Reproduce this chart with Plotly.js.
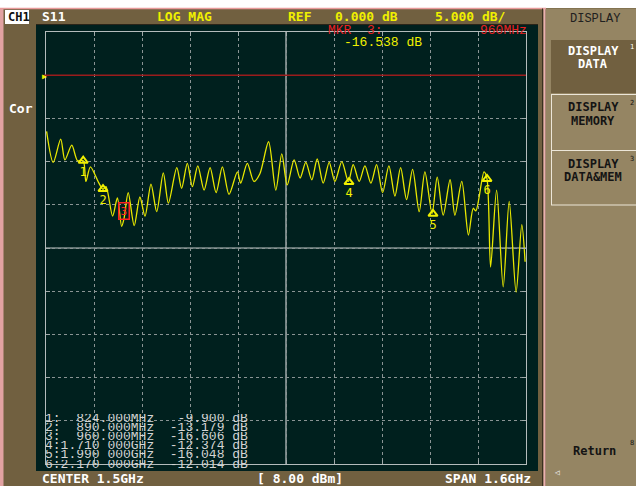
<!DOCTYPE html>
<html><head><meta charset="utf-8">
<script src="https://cdn.plot.ly/plotly-3.0.1.min.js"></script>
<style>html,body{margin:0;padding:0;background:#fff;}#c{width:636px;height:486px;}</style>
</head><body><div id="c"></div>
<script>
// ---- data ----
const traceGHz = [0.702,0.724,0.749,0.763,0.786,0.805,0.824,0.833,0.848,0.875,0.890,0.900,0.922,0.938,0.952,0.960,0.974,0.994,1.013,1.030,1.050,1.069,1.091,1.108,1.136,1.152,1.171,1.188,1.206,1.227,1.247,1.267,1.288,1.310,1.338,1.349,1.371,1.393,1.413,1.442,1.466,1.486,1.504,1.527,1.547,1.566,1.586,1.604,1.624,1.644,1.663,1.686,1.708,1.724,1.744,1.763,1.783,1.802,1.822,1.843,1.863,1.882,1.902,1.922,1.944,1.963,1.987,2.004,2.024,2.047,2.063,2.086,2.108,2.124,2.133,2.160,2.170,2.182,2.202,2.224,2.244,2.267,2.286,2.297];
const traceDB  = [-6.5,-10.1,-7.4,-9.8,-8.1,-9.9,-9.9,-12.3,-10.6,-12.4,-13.2,-12.9,-16.3,-14.2,-17.5,-16.6,-13.6,-17.4,-14.1,-16.3,-12.6,-15.8,-11.3,-14.8,-10.7,-13.1,-10.2,-12.9,-10.5,-13.3,-10.7,-13.6,-10.6,-13.8,-11.2,-12.5,-10.2,-12.3,-11.4,-7.7,-13.3,-9.1,-12.7,-9.8,-11.9,-10.1,-12.1,-9.7,-12.5,-10.1,-12.3,-10.0,-12.3,-10.35,-12.3,-10.5,-12.5,-10.35,-13.6,-10.5,-14.0,-10.7,-14.4,-10.9,-15.8,-11.2,-16.0,-11.8,-16.2,-12.1,-16.2,-12.3,-18.5,-15.4,-15.7,-11.2,-12.0,-22.2,-13.3,-24.5,-14.6,-25.1,-17.3,-21.6];
const mkId   = ['1','2','3','4','5','6'];
const mkFreq = [0.824,0.890,0.960,1.710,1.990,2.170];
const mkVal  = [-9.900,-13.179,-16.606,-12.374,-16.048,-12.014];
const xRange = [0.7, 2.3];
const yRange = [-45, 5];
const refDB = 0, limitDB = -20, centerGHz = 1.5;

// ---- geometry helpers (pixel -> paper) ----
const L=46,R=526,T=32,B=464;
const xp = p => (p-L)/(R-L);
const yp = p => (B-p)/(B-T);

const BROWN='#716040', PANEL='#958563', DARK='#00201e', YEL='#f0f000', TRC='#e8e800';
const mono='DejaVu Sans Mono', lmono='Liberation Mono';

const shapes = [
 {type:'rect',xref:'paper',yref:'paper',x0:xp(0),x1:xp(636),y0:yp(8),y1:yp(-2),fillcolor:'#ffffff',line:{width:0},layer:'below'},
 {type:'rect',xref:'paper',yref:'paper',x0:xp(-2),x1:xp(3.5),y0:yp(490),y1:yp(8),fillcolor:'#e2a2a2',line:{width:0},layer:'below'},
 {type:'line',xref:'paper',yref:'paper',x0:xp(0),x1:xp(546),y0:yp(8.5),y1:yp(8.5),line:{color:'#e89a9a',width:1.5},layer:'below'},
 {type:'rect',xref:'paper',yref:'paper',x0:xp(546),x1:xp(640),y0:yp(490),y1:yp(8.5),fillcolor:PANEL,line:{width:0},layer:'below'},
 {type:'line',xref:'paper',yref:'paper',x0:xp(542.5),x1:xp(542.5),y0:yp(490),y1:yp(8.5),line:{color:'#3a3020',width:1},layer:'below'},
 {type:'line',xref:'paper',yref:'paper',x0:xp(544.5),x1:xp(544.5),y0:yp(490),y1:yp(8.5),line:{color:'#eab0b0',width:2},layer:'below'},
 {type:'rect',xref:'paper',yref:'paper',x0:xp(36),x1:xp(538),y0:yp(471),y1:yp(25),fillcolor:DARK,line:{width:0},layer:'below'},
 {type:'line',xref:'paper',yref:'paper',x0:xp(36),x1:xp(538),y0:yp(24.5),y1:yp(24.5),line:{color:'#2a2418',width:1},layer:'below'},
 // buttons
 {type:'rect',xref:'paper',yref:'paper',x0:xp(551),x1:xp(640),y0:yp(93),y1:yp(40),fillcolor:BROWN,line:{width:0},layer:'below'},
 {type:'line',xref:'paper',yref:'paper',x0:xp(551),x1:xp(640),y0:yp(94.5),y1:yp(94.5),line:{color:'#ece6d8',width:1},layer:'below'},
 {type:'line',xref:'paper',yref:'paper',x0:xp(551),x1:xp(640),y0:yp(150.5),y1:yp(150.5),line:{color:'#ece6d8',width:1},layer:'below'},
 {type:'line',xref:'paper',yref:'paper',x0:xp(551),x1:xp(640),y0:yp(205),y1:yp(205),line:{color:'#ece6d8',width:1},layer:'below'},
 {type:'line',xref:'paper',yref:'paper',x0:xp(551.5),x1:xp(551.5),y0:yp(205),y1:yp(94.5),line:{color:'#ece6d8',width:1},layer:'below'},
 // CH1 box
 {type:'rect',xref:'paper',yref:'paper',x0:xp(5),x1:xp(29),y0:yp(24),y1:yp(10),fillcolor:'#ffffff',line:{width:0},layer:'below'},
 // center & limit solid lines
 {type:'line',xref:'x',yref:'paper',x0:centerGHz,x1:centerGHz,y0:0,y1:1,line:{color:'#c4caca',width:1.2},layer:'between'},
 {type:'line',xref:'paper',yref:'y',x0:0,x1:1,y0:limitDB,y1:limitDB,line:{color:'#c4caca',width:1.2},layer:'between'},
 // reference line
 {type:'line',xref:'paper',yref:'y',x0:xp(44),x1:1,y0:refDB,y1:refDB,line:{color:'#9a1c1c',width:1.5},layer:'above'}
];

function txt(x,y,s,color,size,anchor,fam,extra){
  return Object.assign({xref:'paper',yref:'paper',x:xp(x),y:yp(y),text:s,showarrow:false,
    xanchor:anchor||'left',yanchor:'middle',font:{family:fam||mono,size:size||13,color:color}},extra||{});
}

const ann = [
 txt(6,17,'<b>CH1</b>','#101010',12),
 txt(40,17,'<b>S11</b>','#ffffff',13),
 txt(155,17,'<b>LOG MAG</b>',YEL,13),
 txt(286,17,'<b>REF</b>',YEL,13),
 txt(333,17,'<b>0.000 dB</b>',YEL,13),
 txt(433,17,'<b>5.000 dB/</b>',YEL,13),
 txt(326,31,'MKR  3:','#e82020',13,'left',lmono),
 txt(478,31,'960MHz','#e82020',13,'left',lmono),
 txt(342,42,'-16.538 dB',YEL,13,'left',lmono),
 txt(7,109,'<b>Cor</b>','#ffffff',13),
 txt(44,76,'▶',YEL,8,'center',mono),
 txt(40,478,'<b>CENTER 1.5GHz</b>','#ffffff',13),
 txt(255,478,'<b>[ 8.00 dBm]</b>','#ffffff',13),
 txt(533,478,'<b>SPAN 1.6GHz</b>','#ffffff',13,'right'),
 txt(595,19,'DISPLAY','#202020',12,'center',lmono),
 txt(593,51,'<b>DISPLAY</b>','#ffffff',12,'center'),
 txt(593,64,'<b>DATA</b>','#ffffff',12,'center'),
 txt(593,107,'<b>DISPLAY</b>','#141414',12,'center'),
 txt(593,121,'<b>MEMORY</b>','#141414',12,'center'),
 txt(593,164,'<b>DISPLAY</b>','#141414',12,'center'),
 txt(593,177,'<b>DATA&amp;MEM</b>','#141414',12,'center'),
 txt(594,451,'<b>Return</b>','#141414',12,'center'),
 txt(632,47,'1','#ffffff',7,'center'),
 txt(632,103,'2','#141414',7,'center'),
 txt(632,159,'3','#141414',7,'center'),
 txt(632,443,'8','#141414',7,'center'),
 txt(557,473,'◁','#f0f0f0',8,'center'),
 // active marker 3 box
 {xref:'x',yref:'y',x:mkFreq[2],y:mkVal[2],text:'3',showarrow:false,yshift:8,
  font:{family:mono,size:11,color:'#ff2020'},bordercolor:'#ff2020',borderwidth:1.5,borderpad:1}
];

// marker table: one monospace line per marker, rows 9 px apart as on the instrument screen
const fmtF = f => f<1 ? (f*1000).toFixed(3)+'MHz' : f.toFixed(3)+' 000GHz';
for(let i=0;i<mkId.length;i++){
  const line = (mkId[i]+':'+fmtF(mkFreq[i]).padStart(12)+mkVal[i].toFixed(3).padStart(9)+' dB').replace(/ /g,'\u00a0');
  ann.push(txt(43,418+i*9.2,line,'#d4d4d4',13,'left',lmono,{height:9}));
}

const trNorm = mkId.map((_,i)=>i).filter(i=>i!==2);
const data = [
 {x:traceGHz,y:traceDB,type:'scatter',mode:'lines',line:{color:TRC,width:1.3,shape:'spline',smoothing:0.8},hoverinfo:'skip'},
 {x:trNorm.map(i=>mkFreq[i]),y:trNorm.map(i=>mkVal[i]),text:trNorm.map(i=>mkId[i]),type:'scatter',mode:'markers+text',
  marker:{symbol:'triangle-up-open',size:8,color:YEL,line:{color:YEL,width:2}},
  textposition:'bottom center',textfont:{family:mono,size:12,color:YEL},hoverinfo:'skip'}
];

const axisBase = {showticklabels:false,showgrid:true,gridcolor:'#8a9494',griddash:'dot',gridwidth:1,
  zeroline:false,showline:true,linecolor:'#b4bcbc',linewidth:1,mirror:'ticks',ticks:'inside',ticklen:4,tickcolor:'#a0aaaa',fixedrange:true};

const layout = {
 width:636,height:486,margin:{l:L,r:636-R,t:T,b:486-B,pad:0},
 paper_bgcolor:BROWN,plot_bgcolor:DARK,showlegend:false,
 xaxis:Object.assign({},axisBase,{range:xRange,dtick:0.16,tick0:0.7}),
 yaxis:Object.assign({},axisBase,{range:yRange,dtick:5,tick0:5}),
 shapes:shapes,annotations:ann
};
Plotly.newPlot('c',data,layout,{staticPlot:true,displayModeBar:false});
</script></body></html>
